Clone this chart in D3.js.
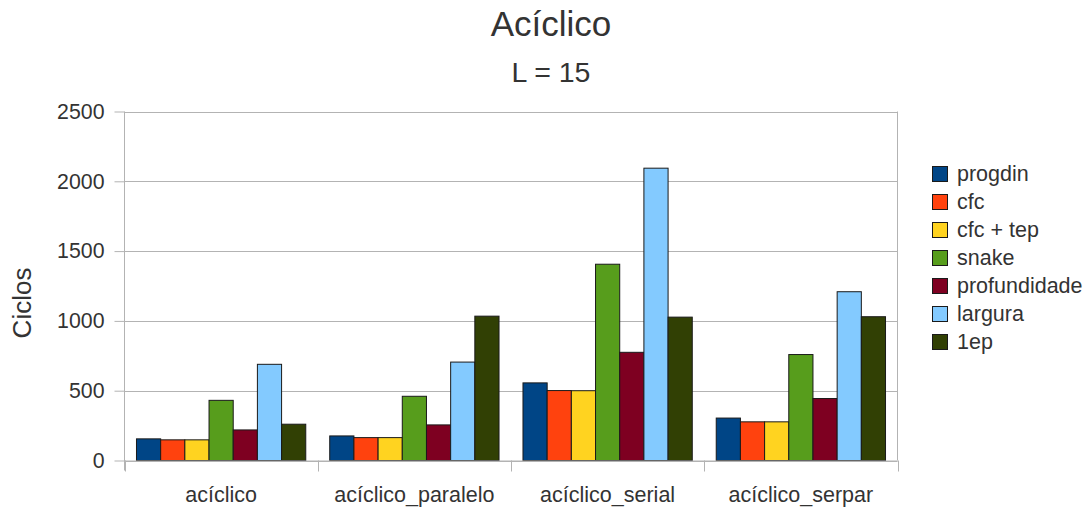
<!DOCTYPE html>
<html>
<head>
<meta charset="utf-8">
<script src="https://cdn.jsdelivr.net/npm/d3@7/dist/d3.min.js"></script>
<style>
  html, body { margin: 0; padding: 0; background: #fff; }
  svg { display: block; font-family: "Liberation Sans", Arial, sans-serif; }
</style>
</head>
<body>
<svg id="chart" width="1087" height="507"></svg>
<script>
// Benchmark groups on the x axis
const categories = ["acíclico", "acíclico_paralelo", "acíclico_serial", "acíclico_serpar"];

// Algorithms, one bar each per group
const seriesNames = ["progdin", "cfc", "cfc + tep", "snake", "profundidade", "largura", "1ep"];
const seriesColors = ["#004586", "#ff420e", "#ffd320", "#579d1c", "#7e0021", "#83caff", "#314004"];

// Cycles per algorithm, in category order
const progdin      = [155, 176, 556, 304];
const cfc          = [148, 164, 501, 277];
const cfcTep       = [148, 164, 500, 277];
const snake        = [431, 460, 1406, 759];
const profundidade = [219, 255, 775, 444];
const largura      = [689, 705, 2094, 1209];
const umEp         = [260, 1034, 1027, 1030];

const seriesValues = [progdin, cfc, cfcTep, snake, profundidade, largura, umEp];

const yTicks = [0, 500, 1000, 1500, 2000, 2500];

const svg = d3.select("#chart");
const textColor = "#333333";
const gridColor = "#b3b3b3";

const plot = { left: 124.5, right: 897.5, top: 111.5, bottom: 460.5 };

const x0 = d3.scaleBand()
  .domain(categories)
  .range([plot.left, plot.right])
  .paddingInner(0.124)
  .paddingOuter(0.062);

const x1 = d3.scaleBand()
  .domain(seriesNames)
  .range([0, x0.bandwidth()]);

const y = d3.scaleLinear()
  .domain([0, 2500])
  .range([plot.bottom, plot.top]);

// Horizontal gridlines
svg.append("g")
  .selectAll("line")
  .data(yTicks)
  .join("line")
  .attr("x1", plot.left)
  .attr("x2", plot.right)
  .attr("y1", d => Math.round(y(d)) + 0.5)
  .attr("y2", d => Math.round(y(d)) + 0.5)
  .attr("stroke", gridColor)
  .attr("stroke-width", 1);

// Right edge of the plot area
svg.append("line")
  .attr("x1", plot.right).attr("x2", plot.right)
  .attr("y1", plot.top).attr("y2", plot.bottom)
  .attr("stroke", gridColor);

// Bars
const groups = svg.append("g")
  .selectAll("g")
  .data(categories)
  .join("g")
  .attr("transform", c => `translate(${x0(c)},0)`);

groups.selectAll("rect")
  .data((c, ci) => seriesNames.map((s, si) => ({ s, si, v: seriesValues[si][ci] })))
  .join("rect")
  .attr("x", d => x1(d.s))
  .attr("width", x1.bandwidth())
  .attr("y", d => y(d.v))
  .attr("height", d => y(0) - y(d.v))
  .attr("fill", d => seriesColors[d.si])
  .attr("stroke", "#1a1a1a")
  .attr("stroke-width", 1);

// Y axis
const yAxis = svg.append("g")
  .attr("transform", `translate(${plot.left},0)`)
  .call(d3.axisLeft(y).tickValues(yTicks).tickSize(10).tickPadding(10).tickFormat(d3.format("d")));
yAxis.select(".domain").attr("stroke", gridColor).attr("d", `M0,${plot.top}V${plot.bottom + 10}`);
yAxis.selectAll(".tick line").attr("stroke", gridColor);
yAxis.selectAll(".tick text")
  .attr("fill", textColor)
  .style("font-size", "21.3px");

// X axis with ticks at category boundaries
const xAxis = svg.append("g")
  .attr("transform", `translate(0,${plot.bottom})`);
xAxis.append("line")
  .attr("x1", plot.left).attr("x2", plot.right)
  .attr("y1", 0.5).attr("y2", 0.5)
  .attr("stroke", gridColor);
const step = x0.step();
xAxis.selectAll(".sep")
  .data(d3.range(categories.length + 1))
  .join("line")
  .attr("class", "sep")
  .attr("x1", i => Math.round(plot.left + i * step) + 0.5)
  .attr("x2", i => Math.round(plot.left + i * step) + 0.5)
  .attr("y1", 0)
  .attr("y2", 11)
  .attr("stroke", gridColor);
xAxis.selectAll(".cat")
  .data(categories)
  .join("text")
  .attr("class", "cat")
  .attr("x", c => x0(c) + x0.bandwidth() / 2)
  .attr("y", 41)
  .attr("text-anchor", "middle")
  .attr("fill", textColor)
  .style("font-size", "21.5px")
  .text(c => c);

// Y axis title
svg.append("text")
  .attr("transform", "translate(31,303) rotate(-90)")
  .attr("text-anchor", "middle")
  .attr("fill", textColor)
  .style("font-size", "26px")
  .text("Ciclos");

// Titles
svg.append("text")
  .attr("x", 551).attr("y", 36)
  .attr("text-anchor", "middle")
  .attr("fill", textColor)
  .style("font-size", "35px")
  .text("Acíclico");
svg.append("text")
  .attr("x", 551).attr("y", 82)
  .attr("text-anchor", "middle")
  .attr("fill", textColor)
  .style("font-size", "28.5px")
  .text("L = 15");

// Legend
const legend = svg.append("g")
  .attr("transform", "translate(932,0)");
const legendRows = legend.selectAll("g")
  .data(seriesNames)
  .join("g")
  .attr("transform", (d, i) => `translate(0,${174 + i * 28})`);
legendRows.append("rect")
  .attr("x", 0.5).attr("y", -7.5)
  .attr("width", 15).attr("height", 15)
  .attr("fill", (d, i) => seriesColors[i])
  .attr("stroke", "#1a1a1a");
legendRows.append("text")
  .attr("x", 25).attr("y", 7)
  .attr("fill", textColor)
  .style("font-size", "21.5px")
  .text(d => d);
</script>
</body>
</html>
